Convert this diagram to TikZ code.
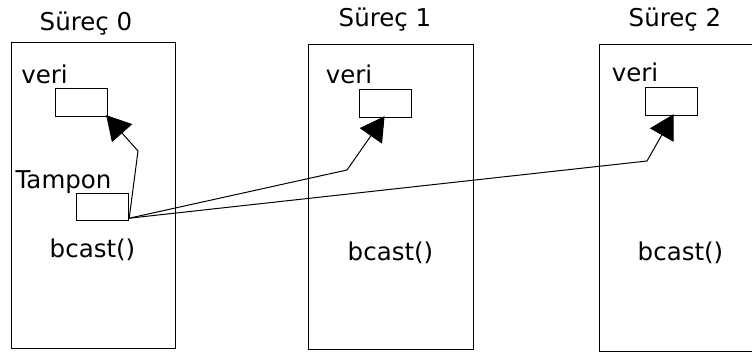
\documentclass[tikz,border=0pt]{standalone}
\usepackage{fontspec}
\setmainfont{DejaVu Sans}
\usetikzlibrary{arrows.meta,calc}
\begin{document}
\begin{tikzpicture}[x=1pt,y=-1pt,
  procbox/.style={draw,line width=1.2pt,inner sep=0pt,anchor=north west},
  databox/.style={draw,line width=1.2pt,inner sep=0pt,anchor=north west,minimum width=52pt,minimum height=28pt},
  lbl/.style={inner sep=0pt,anchor=base,font=\fontsize{24.5}{29}\selectfont},
  send/.style={line width=1pt,-{Triangle[length=24pt,width=27pt]}},
  wire/.style={line width=1pt}]
  \clip (0,0) rectangle (752,356);
  \fill[white] (0,0) rectangle (752,356);

  % process frames
  \node[procbox,minimum width=164pt,minimum height=306pt] (p0) at (11,42) {};
  \node[procbox,minimum width=165pt,minimum height=305pt] (p1) at (308,44) {};
  \node[procbox,minimum width=180pt,minimum height=307pt] (p2) at (599,44) {};

  % titles
  \node[lbl] (t0) at (86,30) {Süreç 0};
  \node[lbl] (t1) at (385,26) {Süreç 1};
  \node[lbl] (t2) at (675,26) {Süreç 2};

  % data buffers
  \node[databox] (v0) at (55,88) {};
  \node[databox] (v1) at (359,89) {};
  \node[databox] (v2) at (645,87) {};
  \node[lbl] (vl0) at (44.5,83) {veri};
  \node[lbl] (vl1) at (349,83) {veri};
  \node[lbl] (vl2) at (635,81) {veri};

  % send buffer on root
  \node[databox,minimum height=27pt] (tb) at (76,193) {};
  \node[lbl] (tl) at (63.5,188) {Tampon};

  % calls
  \node[lbl] (b0) at (92.5,257) {bcast()};
  \node[lbl] (b1) at (390.5,260) {bcast()};
  \node[lbl] (b2) at (680.5,260) {bcast()};

  % broadcast paths
  \coordinate (src) at ($(tb.south east)+(0,-3)$);
  \coordinate (k0) at (138,151);
  \coordinate (k1) at (347,170);
  \coordinate (k2) at (647,161);
  \draw[send] (src) -- (k0) -- ($(v0.south east)+(-2,-2)$);
  \draw[send] (src) -- (k1) -- ($(v1.south)+(-1,-2)$);
  \draw[send] (src) -- (k2) -- ($(v2.south)+(2,-2)$);
\end{tikzpicture}
\end{document}
